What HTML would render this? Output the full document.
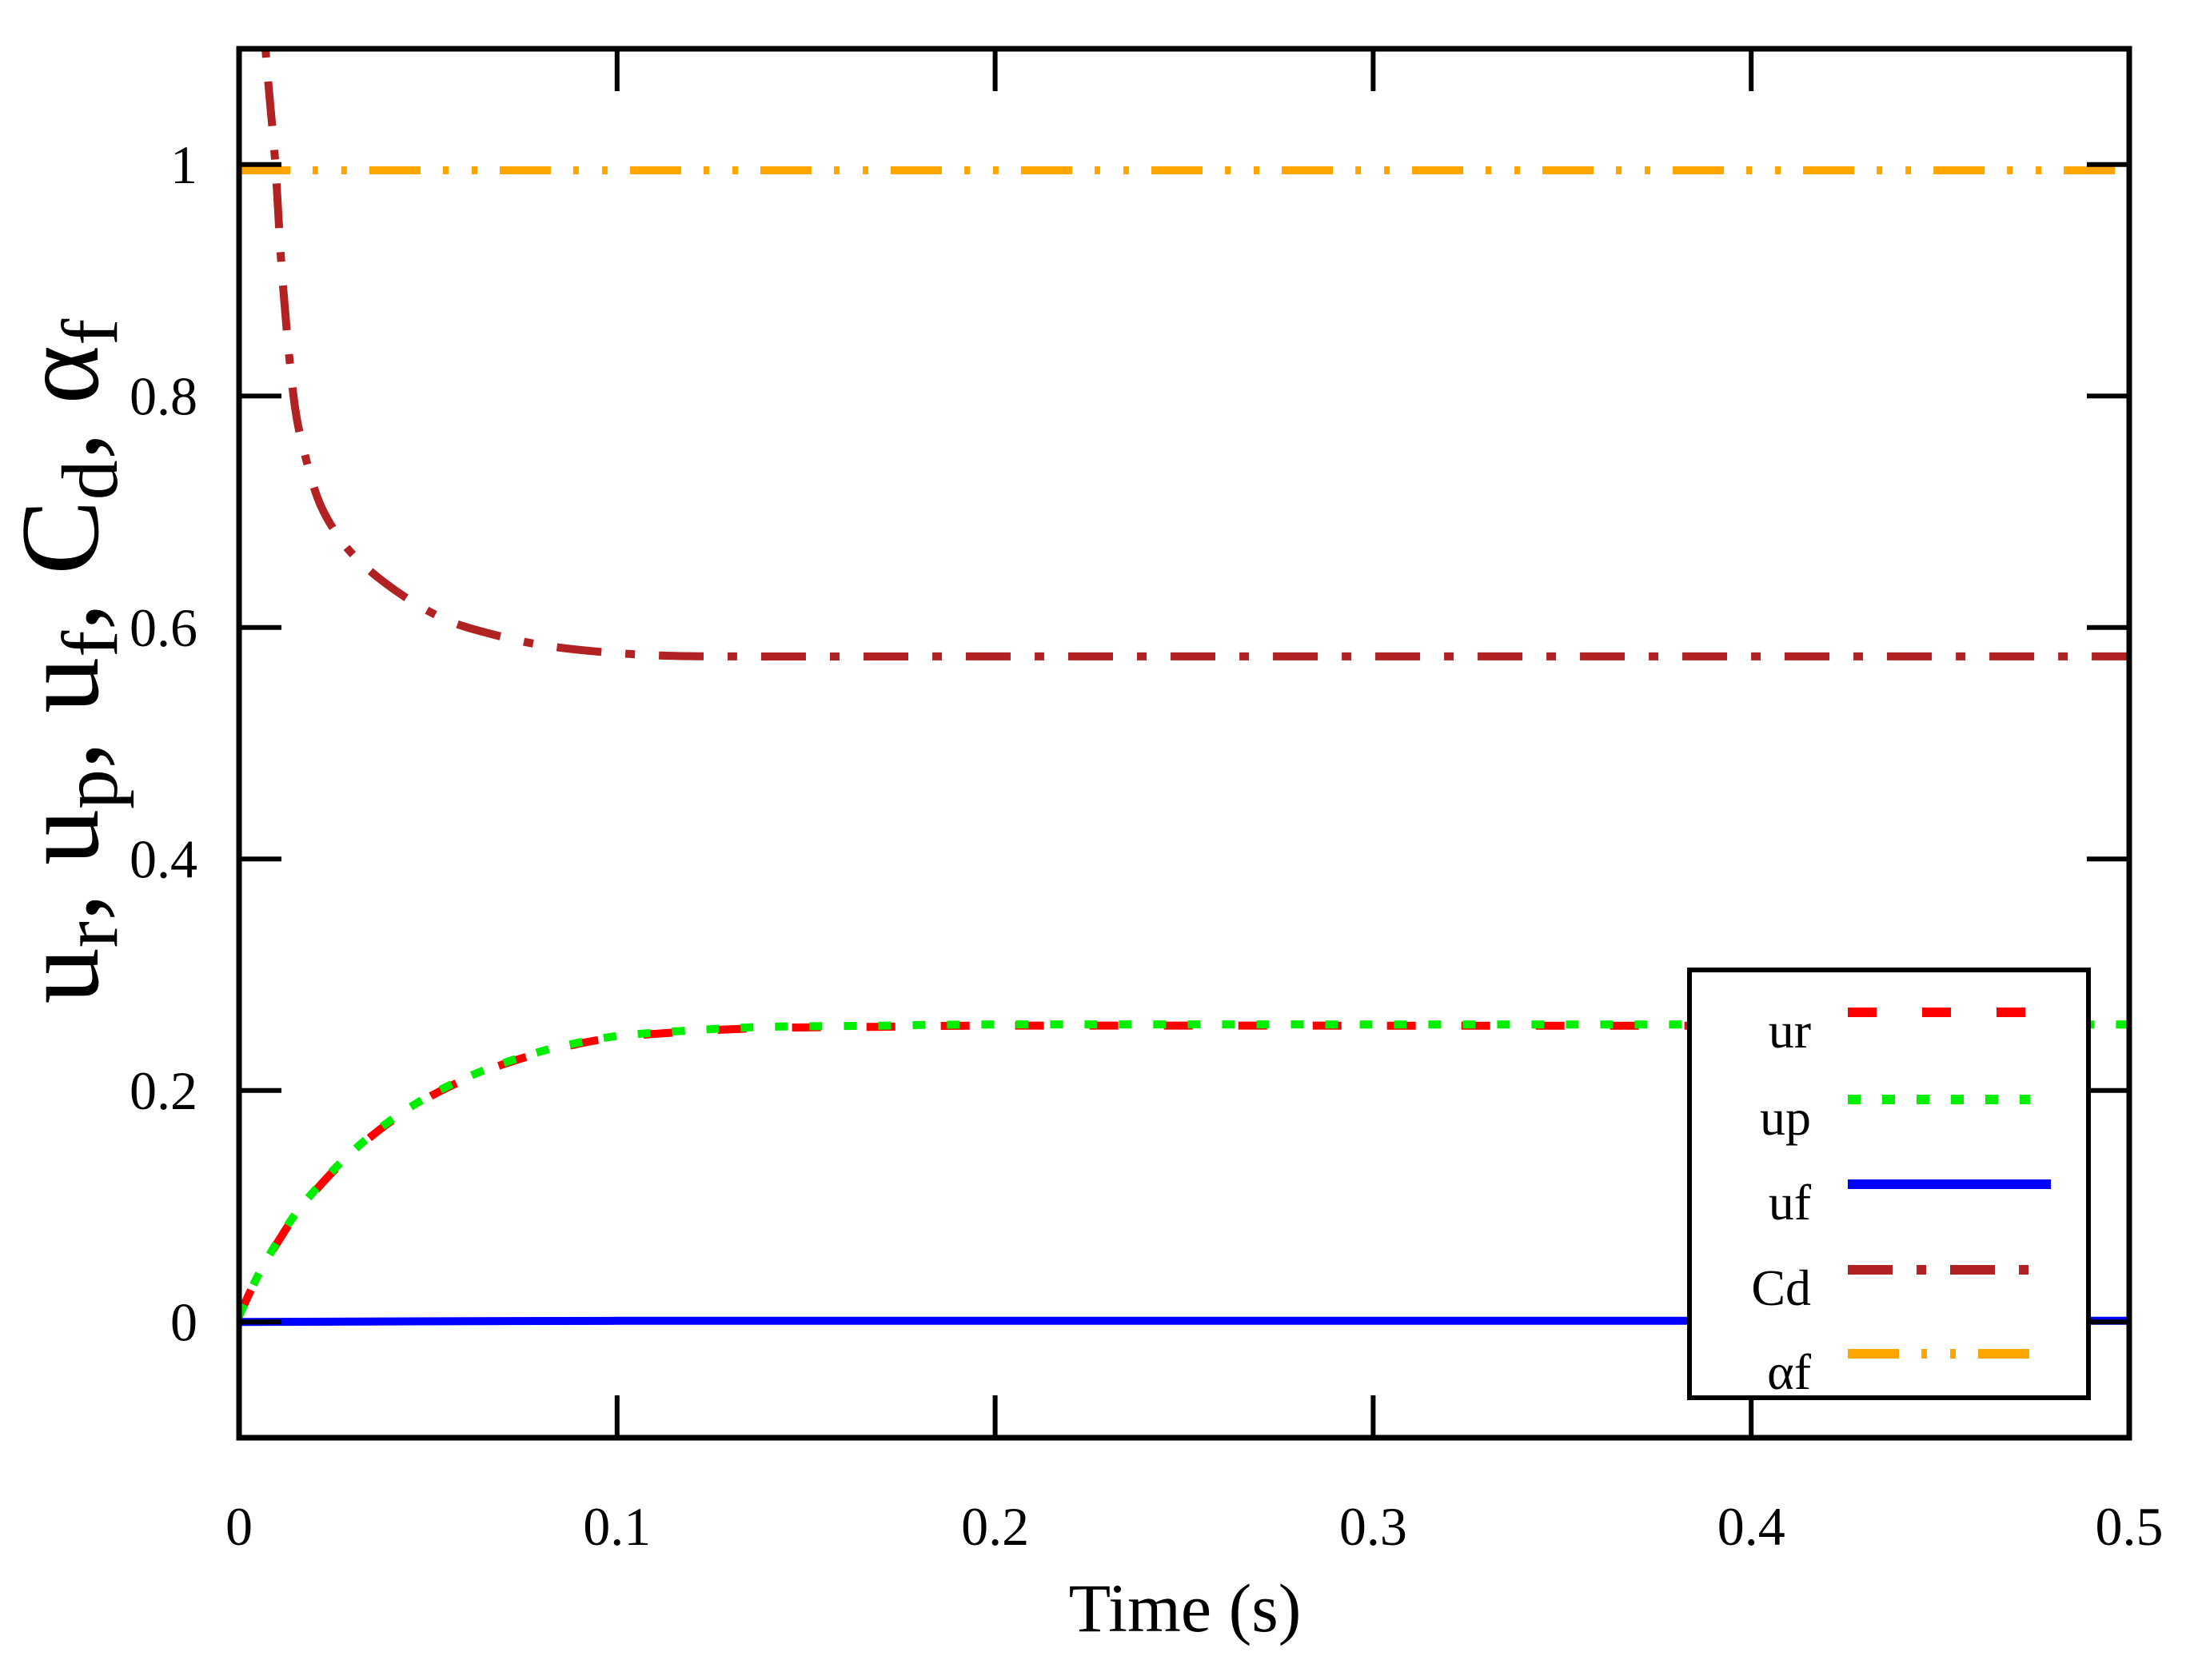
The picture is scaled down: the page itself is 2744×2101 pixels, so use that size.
<!DOCTYPE html>
<html><head><meta charset="utf-8"><style>
html,body{margin:0;padding:0;background:#fff;}
svg{display:block;}
text{font-family:"Liberation Serif",serif;fill:#000;}
</style></head><body>
<svg id="chart" width="2744" height="2101" viewBox="0 0 2744 2101" xmlns="http://www.w3.org/2000/svg">
<defs><clipPath id="clip"><rect x="299" y="61" width="2364" height="1737"/></clipPath></defs>
<g id="series" clip-path="url(#clip)"></g>
<g id="axes"></g>
<g id="legend"></g>
</svg>
<script>
const xTicks=[0,0.1,0.2,0.3,0.4,0.5];
const xTickLabels=["0","0.1","0.2","0.3","0.4","0.5"];
const yTicks=[0,0.2,0.4,0.6,0.8,1];
const yTickLabels=["0","0.2","0.4","0.6","0.8","1"];
const tCd=[0.0062,0.007,0.0083,0.0096,0.0115,0.0144,0.017,0.021,0.026,0.031,0.038,0.047,0.056,0.066,0.078,0.092,0.11,0.13,0.2,0.3,0.4,0.5];
const vCd=[1.16,1.10,1.05,1.00,0.90,0.80,0.755,0.71,0.68,0.66,0.64,0.62,0.605,0.595,0.586,0.58,0.576,0.575,0.575,0.575,0.575,0.575];
const tU=[0,0.005,0.011,0.016,0.022,0.027,0.033,0.04,0.048,0.056,0.066,0.075,0.085,0.1,0.12,0.14,0.17,0.2,0.3,0.4,0.5];
const vUr=[0.005,0.04,0.073,0.097,0.12,0.137,0.155,0.173,0.19,0.204,0.218,0.228,0.237,0.246,0.251,0.254,0.255,0.256,0.256,0.256,0.256];
const vUp=[0.005,0.04,0.074,0.098,0.121,0.138,0.156,0.174,0.191,0.205,0.219,0.229,0.238,0.247,0.252,0.255,0.256,0.257,0.257,0.257,0.257];
const tUf=[0,0.1,0.2,0.3,0.4,0.5];
const vUf=[0,0.001,0.001,0.001,0.001,0.001];
const tAf=[0,0.5];
const vAf=[0.995,0.995];

const NS="http://www.w3.org/2000/svg";
const X0=299,X1=2663,Y0=1798,Y1=61;
const xS=t=>X0+t/0.5*(X1-X0);
const yS=v=>Y0-(v+0.1)/1.2*(Y0-Y1);
function mk(tag,attrs,parent){const e=document.createElementNS(NS,tag);for(const k in attrs)e.setAttribute(k,attrs[k]);parent.appendChild(e);return e;}
const series=document.getElementById('series'),axes=document.getElementById('axes'),legend=document.getElementById('legend');
const styles={
 uf:{c:"#0000ff",d:""},
 cd:{c:"#b22222",d:"56 30 12 30"},
 af:{c:"#ffa500",d:"64 28 7 29 7 28"},
 ur:{c:"#ff0000",d:"36 57"},
 up:{c:"#00ee00",d:"16 27"}
};
function smoothPath(pts){
 let d="M"+pts[0][0].toFixed(1)+","+pts[0][1].toFixed(1);
 for(let i=0;i<pts.length-1;i++){
  const p0=pts[Math.max(0,i-1)],p1=pts[i],p2=pts[i+1],p3=pts[Math.min(pts.length-1,i+2)];
  const c1=[p1[0]+(p2[0]-p0[0])/6,p1[1]+(p2[1]-p0[1])/6];
  const c2=[p2[0]-(p3[0]-p1[0])/6,p2[1]-(p3[1]-p1[1])/6];
  d+=" C"+c1[0].toFixed(1)+","+c1[1].toFixed(1)+" "+c2[0].toFixed(1)+","+c2[1].toFixed(1)+" "+p2[0].toFixed(1)+","+p2[1].toFixed(1);
 }
 return d;
}
function line(ts,vs,st,name){
 const pts=ts.map((t,i)=>[xS(t),yS(vs[i])]);
 const e=mk('path',{d:smoothPath(pts),fill:"none",stroke:st.c,"stroke-width":10,"stroke-dasharray":st.d,"stroke-linejoin":"round"},series);
 
 
}
line(tUf,vUf,styles.uf,'uf-line');
line(tCd,vCd,styles.cd,'cd-line');
line(tAf,vAf,styles.af,'alpha-f-line');
line(tU,vUr,styles.ur,'ur-line');
line(tU,vUp,styles.up,'up-line');

xTicks.forEach((t,i)=>{
 const x=xS(t);
 mk('line',{x1:x,y1:Y0,x2:x,y2:Y0-53,stroke:"#000","stroke-width":6},axes);
 mk('line',{x1:x,y1:Y1,x2:x,y2:Y1+53,stroke:"#000","stroke-width":6},axes);
 const tx=mk('text',{x:x,y:1932,"font-size":68,"text-anchor":"middle"},axes);
 tx.textContent=xTickLabels[i];
 
 
});
yTicks.forEach((v,i)=>{
 const y=yS(v);
 mk('line',{x1:X0,y1:y,x2:X0+53,y2:y,stroke:"#000","stroke-width":6},axes);
 mk('line',{x1:X1,y1:y,x2:X1-53,y2:y,stroke:"#000","stroke-width":6},axes);
 const tx=mk('text',{x:247,y:y+23,"font-size":68,"text-anchor":"end"},axes);
 tx.textContent=yTickLabels[i];
 
 
});
const frame=mk('rect',{x:X0,y:Y1,width:X1-X0,height:Y0-Y1,fill:"none",stroke:"#000","stroke-width":7},axes);


const xt=mk('text',{x:1482,y:2040,"font-size":86,"text-anchor":"middle"},axes);
xt.textContent="Time (s)";


const yt=mk('text',{transform:"translate(122,827) rotate(-90)","font-size":140,"text-anchor":"middle"},axes);
yt.innerHTML='u<tspan font-size="100" dy="24">r</tspan><tspan dy="-24">, u</tspan><tspan font-size="100" dy="24">p</tspan><tspan dy="-24">, u</tspan><tspan font-size="100" dy="24">f</tspan><tspan dy="-24">, C</tspan><tspan font-size="100" dy="24">d</tspan><tspan dy="-24">, α</tspan><tspan font-size="100" dy="24">f</tspan>';



const lb=mk('rect',{x:2113,y:1213,width:499,height:535,fill:"#fff",stroke:"#000","stroke-width":6},legend);


const legNames=["ur","up","uf","Cd","αf"];
const legKeys=["ur","up","uf","cd","af"];
const legY=[1266,1375,1481,1588,1693];
legNames.forEach((n,i)=>{
 const st=styles[legKeys[i]];
 const x2=legKeys[i]==="uf"?2565:2539;
 const l=mk('line',{x1:2311,y1:legY[i],x2:x2,y2:legY[i],stroke:st.c,"stroke-width":12,"stroke-dasharray":st.d},legend);
 
 
 const tx=mk('text',{x:2265,y:legY[i]+44,"font-size":64,"text-anchor":"end"},legend);
 tx.textContent=n;
 
 
});
</script>
</body></html>
